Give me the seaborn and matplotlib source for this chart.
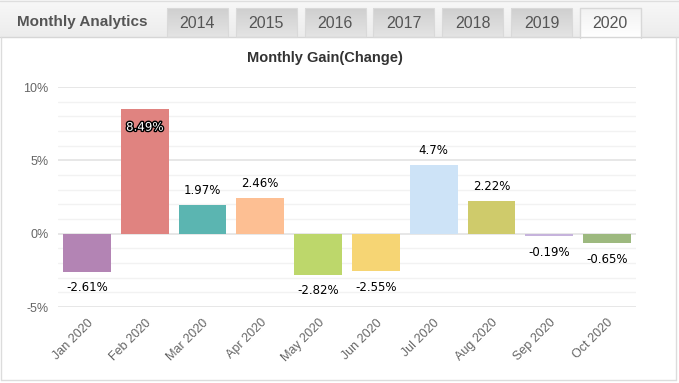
import matplotlib
matplotlib.use("Agg")
import matplotlib.pyplot as plt
import matplotlib.patheffects as pe
from matplotlib.patches import Rectangle
import seaborn as sns
import pandas as pd
import numpy as np

#%% data
months = ["Jan 2020", "Feb 2020", "Mar 2020", "Apr 2020", "May 2020",
          "Jun 2020", "Jul 2020", "Aug 2020", "Sep 2020", "Oct 2020"]
gains = [-2.61, 8.49, 1.97, 2.46, -2.82, -2.55, 4.7, 2.22, -0.19, -0.65]
labels = ["-2.61%", "8.49%", "1.97%", "2.46%", "-2.82%",
          "-2.55%", "4.7%", "2.22%", "-0.19%", "-0.65%"]
colors = ["#b384b4", "#e08380", "#5bb5b1", "#fdbf93", "#bdd76b",
          "#f6d574", "#cde3f7", "#cfcb6b", "#c6b3dc", "#9db97f"]
years = ["2014", "2015", "2016", "2017", "2018", "2019", "2020"]
y_ticks = [-5, 0, 5, 10]
y_ticklabels = ["-5%", "0%", "5%", "10%"]

df = pd.DataFrame({"month": months, "gain": gains})

sns.set_style("white")
plain = ["Liberation Sans", "DejaVu Sans"]

W, H = 679, 383
fig = plt.figure(figsize=(W / 100, H / 100), dpi=100)

#%% widget frame drawn in pixel coords
bg = fig.add_axes([0, 0, 1, 1], zorder=0)
bg.set_xlim(0, W)
bg.set_ylim(H, 0)
bg.axis("off")

def grad(ax, x0, x1, y0, y1, c_top, c_bot):
    a = np.array(matplotlib.colors.to_rgb(c_top))
    b = np.array(matplotlib.colors.to_rgb(c_bot))
    t = np.linspace(0, 1, 50)[:, None]
    img = (a * (1 - t) + b * t)[:, None, :]
    ax.imshow(img, extent=(x0, x1, y1, y0), aspect="auto", zorder=1)

grad(bg, 0, W, 0, 37, "#f8f8f8", "#ececec")
bg.plot([0, W], [0.5, 0.5], color="#dedede", lw=1, zorder=2)
bg.plot([0, W], [37, 37], color="#d6d6d6", lw=1, zorder=2)
bg.text(17, 22, "Monthly Analytics", fontsize=11, fontweight="bold",
        color="#555555", family=plain, va="center", ha="left", zorder=5)

tab_w = 61
for i, yr in enumerate(years):
    x0 = 167 + i * 68.8
    if yr == "2020":
        grad(bg, x0, x0 + tab_w, 8, 38, "#f2f2f2", "#ffffff")
        bg.plot([x0, x0, x0 + tab_w, x0 + tab_w], [38, 8, 8, 38],
                color="#d8d8d8", lw=1, zorder=3)
    else:
        grad(bg, x0, x0 + tab_w, 8, 37, "#cfcfcf", "#e4e4e4")
        bg.add_patch(Rectangle((x0, 8), tab_w, 29, fill=False,
                               edgecolor="#d9d9d9", lw=0.8, zorder=3))
    bg.text(x0 + tab_w / 2, 23, yr, fontsize=11.5, color="#555555",
            family=plain, ha="center", va="center", zorder=5)

# panel border
bg.plot([1, 1], [37, 380], color="#dcdcdc", lw=1, zorder=2)
bg.plot([676, 676], [37, 380], color="#dcdcdc", lw=1, zorder=2)
bg.plot([1, 676], [380, 380], color="#dcdcdc", lw=1, zorder=2)

bg.text(325, 58, "Monthly Gain(Change)", fontsize=10.5, fontweight="bold",
        color="#333333", family=plain, ha="center", va="center", zorder=5)

#%% chart
left, right, top, bottom = 58, 636, 87, 307
ax = fig.add_axes([left / W, 1 - bottom / H, (right - left) / W, (bottom - top) / H],
                  zorder=1)
ax.set_facecolor("none")

for v in range(-5, 11):
    major = v % 5 == 0
    ax.axhline(v, color="#e3e3e3" if major else "#f2f2f2",
               lw=1.2 if major else 1, zorder=0)

sns.barplot(data=df, x="month", y="gain", hue="month", palette=colors,
            legend=False, width=0.83, saturation=1, linewidth=0, ax=ax, zorder=2)

ax.set_ylim(-5, 10)
ax.set_xlim(-0.5, len(months) - 0.5)
ax.set_yticks(y_ticks)
ax.set_yticklabels(y_ticklabels, color="#666666", fontsize=9, family=plain)
ax.tick_params(axis="y", length=0, pad=7)
ax.tick_params(axis="x", length=0, pad=7)
ax.set_xticks(range(len(months)))
ax.set_xticklabels(months, rotation=45, ha="right", rotation_mode="anchor",
                   color="#666666", fontsize=9, family=plain)
ax.set_xlabel("")
ax.set_ylabel("")
for s in ax.spines.values():
    s.set_visible(False)

for i, (g, lab) in enumerate(zip(gains, labels)):
    if i == 1:
        t = ax.annotate(lab, (i, g), xytext=(0, -13), textcoords="offset points",
                        ha="center", va="center", fontsize=8.5, color="white",
                        family=["DejaVu Sans"], zorder=4)
        t.set_path_effects([pe.withStroke(linewidth=2, foreground="black")])
    elif g >= 0:
        ax.annotate(lab, (i, g), xytext=(0, 10.5), textcoords="offset points",
                    ha="center", va="center", fontsize=8.5, color="black",
                    family=["DejaVu Sans"], zorder=4)
    else:
        ax.annotate(lab, (i, g), xytext=(0, -11.5), textcoords="offset points",
                    ha="center", va="center", fontsize=8.5, color="black",
                    family=["DejaVu Sans"], zorder=4)

fig.savefig("out.png", dpi=100)
